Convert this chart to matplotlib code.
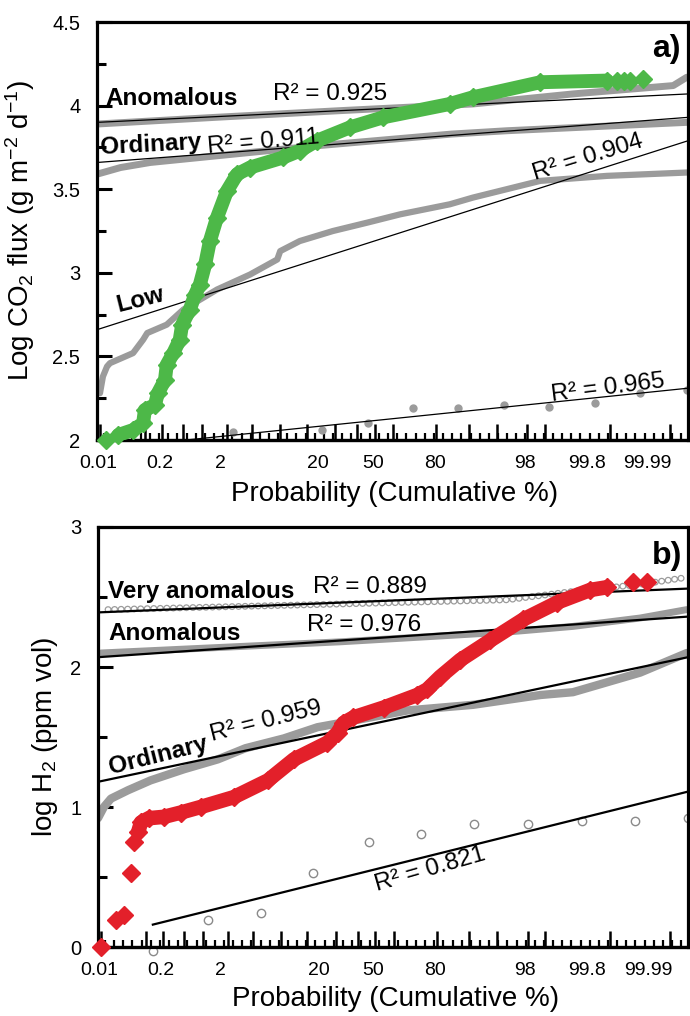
import numpy as np
import matplotlib.pyplot as plt

plt.rcParams['font.family'] = ['Liberation Sans', 'DejaVu Sans']
plt.rcParams['mathtext.fontset'] = 'custom'
plt.rcParams['mathtext.rm'] = 'Liberation Sans'
plt.rcParams['mathtext.it'] = 'Liberation Sans:italic'
plt.rcParams['mathtext.bf'] = 'Liberation Sans:bold'
plt.rcParams['lines.scale_dashes'] = False

# x axis: position along the probability paper (0 = left edge, 100 = right edge)
prob_labels = ['0.01', '0.2', '2', '20', '50', '80', '98', '99.8', '99.99']
prob_label_pos = [0.2, 10.7, 20.8, 37.4, 46.7, 57.2, 72.4, 82.9, 93.2]
tall_ticks = [0.5, 8.1, 11.0, 14.6, 17.8, 22.0, 26.2, 31.0, 35.5, 40.3, 44.0, 47.0,
              50.1, 57.4, 62.9, 67.7, 72.8, 75.8, 82.9, 86.8, 93.2, 97.0]

# ---- panel a: CO2 flux ----
co2_x = [1.5, 3.6, 6.1, 7.8, 8.1, 9.8, 10.3, 11.5, 11.8, 12.9, 14.0, 14.4, 15.7, 16.6,
         17.4, 18.3, 19.1, 20.3, 22.0, 23.7, 25.9, 31.5, 34.3, 37.2, 42.8, 48.4, 59.7,
         63.6, 75.0, 86.3, 88.0, 89.2, 90.2, 92.4]
co2_y = [2.00, 2.03, 2.06, 2.10, 2.18, 2.21, 2.28, 2.36, 2.45, 2.52, 2.60, 2.69, 2.78, 2.87,
         2.93, 3.05, 3.19, 3.33, 3.49, 3.59, 3.63, 3.69, 3.73, 3.79, 3.87, 3.93, 4.01,
         4.05, 4.14, 4.15, 4.15, 4.15, 4.15, 4.16]

anom_a_x = [0, 20, 41.1, 63.6, 80.5, 97.5, 99.8]
anom_a_y = [3.89, 3.93, 3.97, 4.01, 4.07, 4.12, 4.17]
ord_a_x = [0, 4, 9, 37.2, 60, 69.4, 99.8]
ord_a_y = [3.59, 3.63, 3.66, 3.76, 3.83, 3.85, 3.90]
low_a_x = [0.5, 1.0, 1.7, 2.2, 6.1, 7.8, 8.5, 11.8, 14.6, 20.3, 25.9, 30.5, 31.0, 34.3,
           39.9, 45.7, 51.3, 59.7, 63.6, 75.0, 86.3, 99.8]
low_a_y = [2.28, 2.38, 2.44, 2.46, 2.52, 2.60, 2.64, 2.69, 2.78, 2.90, 2.99, 3.08, 3.13, 3.19,
           3.25, 3.30, 3.35, 3.41, 3.45, 3.55, 3.58, 3.60]
bg_a_x = [23.0, 38.1, 45.9, 53.5, 61.1, 68.9, 76.5, 84.3, 91.9, 99.8]
bg_a_y = [2.05, 2.06, 2.10, 2.19, 2.19, 2.21, 2.20, 2.22, 2.28, 2.30]

fit_x = [0, 100]
fit_anom_a = [3.90, 4.07]
fit_ord_a = [3.66, 3.93]
fit_low_a = [2.66, 3.79]
fit_bg_a = [1.945, 2.31]

# ---- panel b: H2 ----
h2_x = [0.5, 3.0, 4.4, 5.6, 6.1, 6.8, 7.3, 8.6, 11.2, 14.0, 17.4, 23.0, 28.8, 33.2, 38.9,
        40.6, 41.6, 43.3, 48.4, 54.1, 55.8, 58.0, 61.4, 66.5, 72.1, 77.8, 83.4, 86.3,
        90.7, 93.1]
h2_y = [0.00, 0.19, 0.23, 0.53, 0.75, 0.82, 0.89, 0.92, 0.93, 0.96, 1.00, 1.07, 1.19, 1.34,
        1.46, 1.53, 1.60, 1.64, 1.71, 1.80, 1.84, 1.93, 2.05, 2.19, 2.34, 2.46, 2.55, 2.57,
        2.61, 2.61]

vanom_b_x = [1.7, 41.1, 69.4, 80.5, 91.9, 99.8]
vanom_b_y = [2.41, 2.45, 2.48, 2.54, 2.59, 2.64]
anom_b_x = [0.5, 41.1, 69.4, 80.5, 91.9, 99.8]
anom_b_y = [2.10, 2.18, 2.25, 2.29, 2.35, 2.41]
ord_b_x = [0.0, 1.0, 2.2, 5.1, 8.9, 14.6, 20.3, 25.0, 31.5, 37.2, 41.1, 52.5, 63.6, 75.0,
           80.5, 91.9, 99.8]
ord_b_y = [0.92, 1.00, 1.06, 1.12, 1.19, 1.27, 1.34, 1.42, 1.49, 1.57, 1.60, 1.69, 1.73, 1.80,
           1.82, 1.96, 2.10]
bg_b_x = [9.3, 18.6, 27.7, 36.5, 45.9, 54.8, 63.8, 72.9, 82.1, 91.0, 100.0]
bg_b_y = [-0.03, 0.19, 0.24, 0.53, 0.75, 0.81, 0.88, 0.88, 0.90, 0.90, 0.92]

fit_vanom_b = [2.39, 2.56]
fit_anom_b = [2.07, 2.36]
fit_ord_b = [1.18, 2.07]
fit_bg_b_x = [9.3, 100]
fit_bg_b = [0.16, 1.11]

GRAY = '#9b9b9b'
GREEN = '#4db848'
RED = '#e3202a'


def style_axes(ax, ylim, yticks, yticklabels, yminor):
    ax.set_xlim(0, 100)
    ax.set_ylim(*ylim)
    for s in ax.spines.values():
        s.set_linewidth(2.3)
    ax.set_yticks(yticks)
    ax.set_yticklabels(yticklabels)
    ax.set_yticks(yminor, minor=True)
    ax.tick_params(axis='y', which='major', direction='in', length=10.5, width=2.2,
                   labelsize=14.5, pad=12)
    ax.tick_params(axis='y', which='minor', direction='in', length=6.5, width=2.2)
    ax.set_xticks(prob_label_pos)
    ax.set_xticklabels(prob_labels)
    ax.set_xticks(tall_ticks, minor=True)
    ax.tick_params(axis='x', which='major', length=0, labelsize=14, pad=11)
    ax.tick_params(axis='x', which='minor', direction='in', length=11.5, width=1.8)
    sec = ax.secondary_xaxis('bottom')
    sec.set_xticks(np.arange(1.2, 100, 1.55))
    sec.tick_params(direction='in', length=5, width=1.6, labelbottom=False)
    sec.spines['bottom'].set_linewidth(2.3)
    ax.set_xlabel('Probability (Cumulative %)', fontsize=20)


fig = plt.figure(figsize=(6.9, 10.16), dpi=100)
ax1 = fig.add_axes([0.1406, 0.5669, 0.8565, 0.4114])
ax2 = fig.add_axes([0.1420, 0.0679, 0.8551, 0.4134])

# panel a
style_axes(ax1, (2, 4.5), [2, 2.5, 3, 3.5, 4, 4.5], ['2', '2.5', '3', '3.5', '4', '4.5'],
           [2.25, 2.75, 3.25, 3.75, 4.25])
ax1.plot(anom_a_x, anom_a_y, color=GRAY, lw=5, solid_capstyle='round', zorder=2)
ax1.plot(ord_a_x, ord_a_y, color=GRAY, lw=5, solid_capstyle='round', zorder=2)
ax1.plot(low_a_x, low_a_y, color=GRAY, lw=4.5, solid_capstyle='round',
         solid_joinstyle='round', zorder=2)
ax1.plot(bg_a_x, bg_a_y, 'o', color=GRAY, ms=5, zorder=2, clip_on=False)
for fy in (fit_anom_a, fit_ord_a, fit_low_a, fit_bg_a):
    ax1.plot(fit_x, fy, color='black', lw=0.9, zorder=3)
ax1.plot(co2_x[1:-4], co2_y[1:-4], color=GREEN, lw=10, solid_capstyle='round',
         solid_joinstyle='round', zorder=4)
ax1.plot(co2_x, co2_y, 'D', color=GREEN, ms=9, zorder=4, clip_on=False)

ax1.text(1.35, 4.045, 'Anomalous', fontsize=17.5, fontweight='bold', va='center', zorder=5)
ax1.text(29.8, 4.07, 'R² = 0.925', fontsize=17.5, va='center', zorder=5)
ax1.text(0.5, 3.75, 'Ordinary', fontsize=17.5, fontweight='bold', va='center',
         rotation=3, rotation_mode='anchor', zorder=5)
ax1.text(28.1, 3.78, 'R² = 0.911', fontsize=17.5, ha='center', va='center',
         rotation=5, rotation_mode='anchor', zorder=5)
ax1.text(83.1, 3.69, 'R² = 0.904', fontsize=17.5, ha='center', va='center',
         rotation=17, rotation_mode='anchor', zorder=5)
ax1.text(7.3, 2.84, 'Low', fontsize=17.5, fontweight='bold', ha='center', va='center',
         rotation=14, rotation_mode='anchor', zorder=5)
ax1.text(86.5, 2.31, 'R² = 0.965', fontsize=17.5, ha='center', va='center',
         rotation=7, rotation_mode='anchor', zorder=5)
ax1.text(96.3, 4.34, 'a)', fontsize=23, fontweight='bold', ha='center', va='center', zorder=5)
ax1.set_ylabel('Log CO$_2$ flux (g m$^{-2}$ d$^{-1}$)', fontsize=20)
ax1.yaxis.set_label_coords(-0.1015, 0.5)
ax1.xaxis.set_label_coords(0.504, -0.098)

# panel b
style_axes(ax2, (0, 3), [0, 1, 2, 3], ['0', '1', '2', '3'], [0.5, 1.5, 2.5])
ax2.plot(vanom_b_x, vanom_b_y, color=GRAY, lw=5, dashes=(0.1, 4.6), dash_capstyle='round',
         zorder=2)
ax2.plot(vanom_b_x, vanom_b_y, color='white', lw=3.2, dashes=(0.1, 4.6),
         dash_capstyle='round', zorder=2)
ax2.plot(anom_b_x, anom_b_y, color=GRAY, lw=5, solid_capstyle='round', zorder=2)
ax2.plot(ord_b_x, ord_b_y, color=GRAY, lw=6, solid_capstyle='round',
         solid_joinstyle='round', zorder=2)
ax2.plot(bg_b_x, bg_b_y, 'o', mfc='white', mec='#8a8a8a', mew=1.0, ms=6, zorder=2,
         clip_on=False)
for fy in (fit_vanom_b, fit_anom_b, fit_ord_b):
    ax2.plot(fit_x, fy, color='black', lw=1.6, zorder=3)
ax2.plot(fit_bg_b_x, fit_bg_b, color='black', lw=1.6, zorder=3)
ax2.plot(h2_x[5:-2], h2_y[5:-2], color=RED, lw=10.5, solid_capstyle='round',
         solid_joinstyle='round', zorder=4)
ax2.plot(h2_x, h2_y, 'D', color=RED, ms=9, zorder=4, clip_on=False)

ax2.text(1.7, 2.536, 'Very anomalous', fontsize=17.5, fontweight='bold', va='center', zorder=5)
ax2.text(36.4, 2.57, 'R² = 0.889', fontsize=17.5, va='center', zorder=5)
ax2.text(1.7, 2.24, 'Anomalous', fontsize=17.5, fontweight='bold', va='center', zorder=5)
ax2.text(35.5, 2.30, 'R² = 0.976', fontsize=17.5, va='center', zorder=5)
ax2.text(10.2, 1.37, 'Ordinary', fontsize=17.5, fontweight='bold', ha='center', va='center',
         rotation=14, rotation_mode='anchor', zorder=5)
ax2.text(28.4, 1.61, 'R² = 0.959', fontsize=17.5, ha='center', va='center',
         rotation=14, rotation_mode='anchor', zorder=5)
ax2.text(56.3, 0.55, 'R² = 0.821', fontsize=17.5, ha='center', va='center',
         rotation=16, rotation_mode='anchor', zorder=5)
ax2.text(96.4, 2.79, 'b)', fontsize=23, fontweight='bold', ha='center', va='center', zorder=5)
ax2.set_ylabel('log H$_2$ (ppm vol)', fontsize=20)
ax2.yaxis.set_label_coords(-0.064, 0.5)
ax2.xaxis.set_label_coords(0.504, -0.093)

fig.savefig('out.png', dpi=100)
